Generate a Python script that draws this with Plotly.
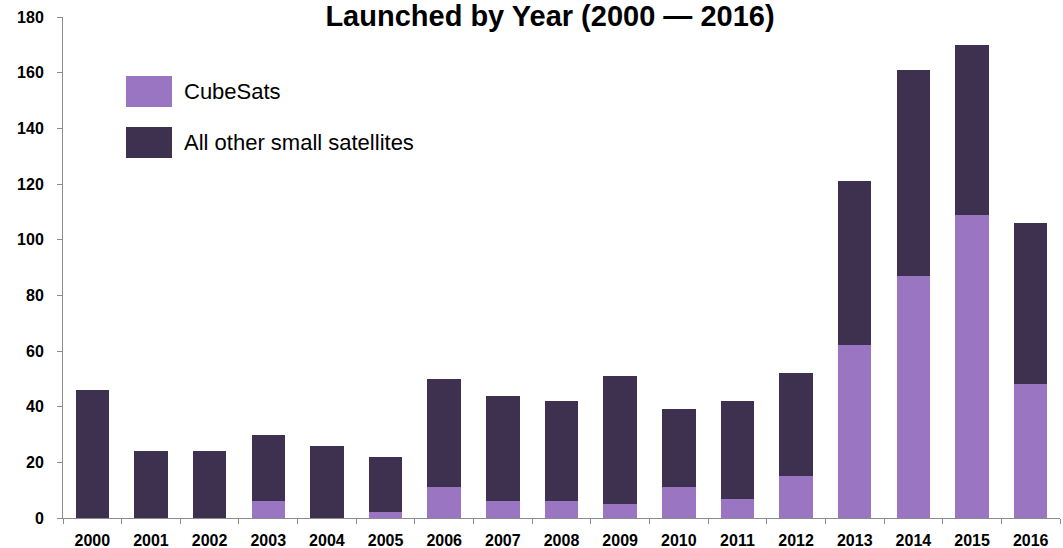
import plotly.graph_objects as go

years = ["2000", "2001", "2002", "2003", "2004", "2005", "2006", "2007", "2008",
         "2009", "2010", "2011", "2012", "2013", "2014", "2015", "2016"]
cubesats = [0, 0, 0, 6, 0, 2, 11, 6, 6, 5, 11, 7, 15, 62, 87, 109, 48]
totals = [46, 24, 24, 30, 26, 22, 50, 44, 42, 51, 39, 42, 52, 121, 161, 170, 106]
others = [t - c for t, c in zip(totals, cubesats)]

CUBE = "#9a75c2"
OTHER = "#3e3150"
FONT = "Liberation Sans, Arial, sans-serif"

fig = go.Figure()
fig.add_trace(go.Bar(x=years, y=cubesats, name="CubeSats", marker_color=CUBE,
                     marker_line_width=0, showlegend=False))
fig.add_trace(go.Bar(x=years, y=others, name="All other small satellites",
                     marker_color=OTHER, marker_line_width=0, showlegend=False))

# manual legend (large swatches like the reference)
legend_items = [("CubeSats", CUBE, 76, 107), ("All other small satellites", OTHER, 127, 158)]
H = 548.0
W = 1063.0
for label, col, y0, y1 in legend_items:
    fig.add_shape(type="rect", xref="paper", yref="paper",
                  x0=(126 - 63) / 997, x1=(172 - 63) / 997,
                  y0=1 - (y1 - 17) / 501, y1=1 - (y0 - 17) / 501,
                  fillcolor=col, line_width=0, layer="above")
    fig.add_annotation(xref="paper", yref="paper", x=(182 - 63) / 997,
                       y=1 - ((y0 + y1) / 2 - 17) / 501, text=label,
                       showarrow=False, xanchor="left", yanchor="middle",
                       font=dict(family=FONT, size=22, color="#000000"))

fig.update_layout(
    barmode="stack",
    bargap=0.43,
    width=1063, height=548,
    margin=dict(l=63, r=3, t=17, b=30),
    paper_bgcolor="white", plot_bgcolor="white",
    title=dict(text="<b>Launched by Year (2000 — 2016)</b>",
               font=dict(family=FONT, size=29, color="#000000"),
               x=550 / W, xanchor="center", xref="container",
               y=1 - 16 / H, yanchor="middle", yref="container"),
    xaxis=dict(type="category", showgrid=False, showline=True, linecolor="#8c8c8c",
               linewidth=1, ticks="outside", tickson="boundaries", ticklen=5,
               tickcolor="#8c8c8c", ticklabelstandoff=8, automargin=False,
               tickfont=dict(family=FONT, size=16, color="#000000", weight="bold")),
    yaxis=dict(range=[0, 180], dtick=20, showgrid=False, showline=True,
               linecolor="#8c8c8c", linewidth=1, ticks="outside", ticklen=5,
               tickcolor="#8c8c8c", zeroline=False, ticklabelstandoff=10,
               automargin=False,
               tickfont=dict(family=FONT, size=16, color="#000000", weight="bold")),
)

fig.write_html("out.html", config={"displayModeBar": False},
               post_script="document.body.style.margin='0';document.body.style.padding='0';")
